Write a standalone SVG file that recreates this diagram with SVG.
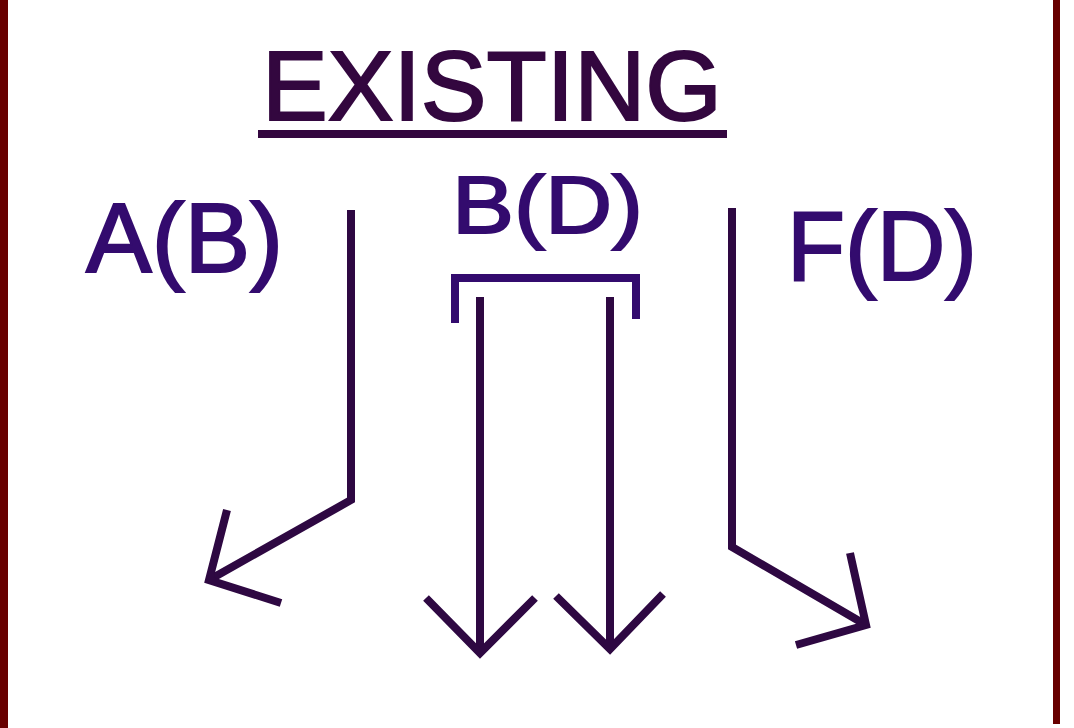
<svg xmlns="http://www.w3.org/2000/svg" width="1074" height="728" viewBox="0 0 1074 728">
<style>
.lbl{font-family:"Liberation Sans",Arial,sans-serif;fill:#330b6e;stroke:#330b6e;stroke-width:2}
.title{font-family:"Liberation Sans",Arial,sans-serif;fill:#33073f;stroke:#33073f;stroke-width:2}
.con{fill:none;stroke:#2e0842;stroke-width:8;stroke-linecap:butt;stroke-linejoin:miter}
.brk{fill:none;stroke:#330b6e;stroke-width:8}
</style>
<rect x="0" y="0" width="1074" height="728" fill="#ffffff"/>
<g id="frame">
<rect x="0" y="0" width="8" height="728" fill="#680000"/>
<rect x="1053" y="0" width="7" height="724" fill="#680000"/>
</g>
<g id="title">
<text class="title" x="262" y="120" font-size="99" textLength="460" lengthAdjust="spacingAndGlyphs">EXISTING</text>
<rect x="258" y="130" width="469" height="8" fill="#33073f"/>
</g>
<g id="node-AB">
<text class="lbl" x="86" y="272" font-size="98" textLength="197" lengthAdjust="spacingAndGlyphs">A(B)</text>
</g>
<g id="node-BD">
<text class="lbl" x="452" y="233" font-size="82" textLength="191" lengthAdjust="spacingAndGlyphs">B(D)</text>
<polyline class="brk" points="455,323 455,278 636,278 636,319"/>
</g>
<g id="node-FD">
<text class="lbl" x="787" y="280" font-size="99" textLength="190" lengthAdjust="spacingAndGlyphs">F(D)</text>
</g>
<g id="connectors">
<polyline class="con" points="351,210 351,500 209,580"/>
<polyline class="con" points="227,510 209,580 281,603"/>
<line class="con" x1="480" y1="297" x2="480" y2="652"/>
<polyline class="con" points="426,598 480,653 535,598"/>
<line class="con" x1="610" y1="297" x2="610" y2="648"/>
<polyline class="con" points="556,596 610,649 663,594"/>
<polyline class="con" points="732,208 732,547 866,625"/>
<polyline class="con" points="850,553 866,625 796,645"/>
</g>
</svg>
